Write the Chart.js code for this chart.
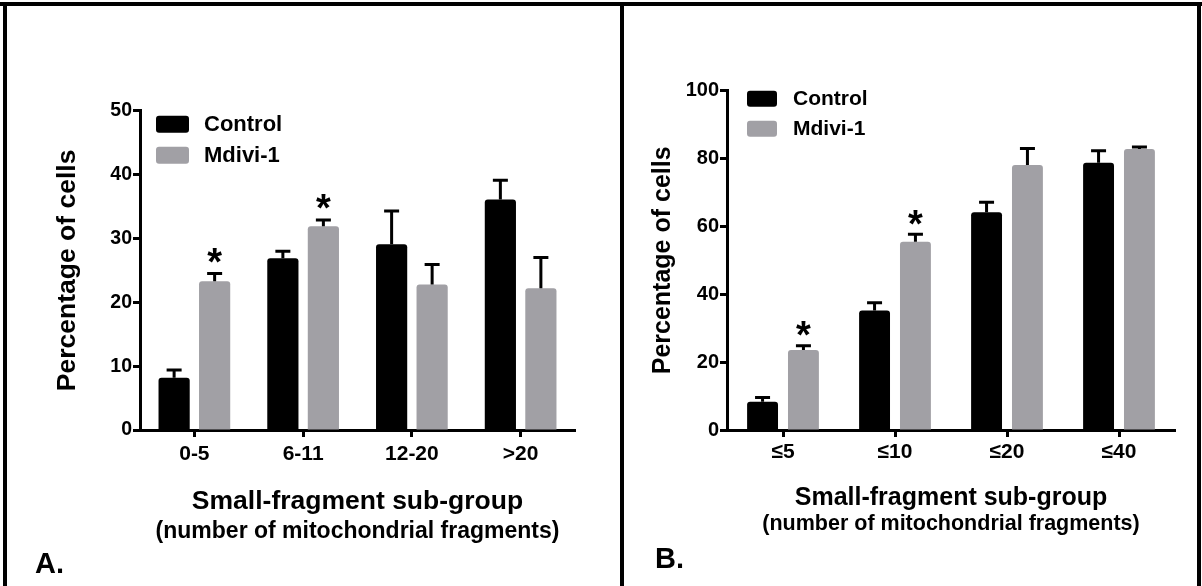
<!DOCTYPE html>
<html>
<head>
<meta charset="utf-8">
<title>Small-fragment sub-group</title>
<script src="https://cdn.jsdelivr.net/npm/chart.js@4.4.1/dist/chart.umd.min.js"></script>
<style>
  body { margin: 0; background: #fff; width: 1202px; height: 586px; position: relative; overflow: hidden; }
  .panel { position: absolute; top: 0; }
  #panelA { left: 0; width: 620px; height: 586px; }
  #panelB { left: 620px; width: 582px; height: 586px; }
  .frame { position: absolute; background: #000; z-index: 2; }
</style>
</head>
<body>
<div class="panel" id="panelA"><canvas id="chartA" width="620" height="586"></canvas></div>
<div class="panel" id="panelB"><canvas id="chartB" width="582" height="586"></canvas></div>
<!-- panel frames -->
<div class="frame" style="left:0;top:2px;width:1202px;height:4px"></div>
<div class="frame" style="left:3px;top:2px;width:4px;height:584px"></div>
<div class="frame" style="left:620px;top:2px;width:4px;height:584px"></div>
<div class="frame" style="left:1197px;top:2px;width:4px;height:584px"></div>

<script>
// panel A: sub-groups by fragment count
var categoriesA = ["0-5", "6-11", "12-20", ">20"];
var controlA = [8.2, 26.9, 29.1, 36.1];
var controlErrA = [1.2, 1.1, 5.2, 3.0];
var mdiviA = [23.3, 31.9, 22.8, 22.2];
var mdiviErrA = [1.2, 1.0, 3.1, 4.8];
var starsA = ["*", "*", "", ""];
var yMaxA = 50;
var yStepA = 10;

// panel B: cumulative sub-groups
var categoriesB = ["\u22645", "\u226410", "\u226420", "\u226440"];
var controlB = [8.3, 35.2, 64.2, 78.8];
var controlErrB = [1.3, 2.3, 2.9, 3.5];
var mdiviB = [23.6, 55.5, 78.1, 82.8];
var mdiviErrB = [1.2, 2.2, 4.9, 0.6];
var starsB = ["*", "*", "", ""];
var yMaxB = 100;
var yStepB = 20;

var seriesNames = ["Control", "Mdivi-1"];
var seriesColors = ["#000000", "#a1a0a5"];
var axisTitleY = "Percentage of cells";
var axisTitleX = "Small-fragment sub-group";
var axisSubtitleX = "(number of mitochondrial fragments)";

var FONT = "'Liberation Sans', Arial, Helvetica, sans-serif";

// error bars (upper half only) + significance stars
var errorBarsPlugin = {
  id: "errorBars",
  afterDatasetsDraw: function (chart, args, opts) {
    var ctx = chart.ctx;
    var yScale = chart.scales.y;
    ctx.save();
    chart.data.datasets.forEach(function (ds, i) {
      var meta = chart.getDatasetMeta(i);
      meta.data.forEach(function (bar, j) {
        var top = yScale.getPixelForValue(ds.data[j] + ds.errors[j]);
        ctx.strokeStyle = "#000";
        ctx.lineWidth = opts.lineWidth;
        ctx.beginPath();
        ctx.moveTo(bar.x, bar.y);
        ctx.lineTo(bar.x, top);
        ctx.moveTo(bar.x - opts.capWidth / 2, top);
        ctx.lineTo(bar.x + opts.capWidth / 2, top);
        ctx.stroke();
        if (ds.stars && ds.stars[j]) {
          ctx.font = "bold " + opts.starSize + "px " + FONT;
          ctx.fillStyle = "#000";
          ctx.textAlign = "center";
          ctx.textBaseline = "alphabetic";
          var m = ctx.measureText(ds.stars[j]);
          var cy = top - opts.starGap;
          ctx.fillText(ds.stars[j], bar.x, cy + (m.actualBoundingBoxAscent - m.actualBoundingBoxDescent) / 2);
        }
      });
    });
    ctx.restore();
  }
};

// legend boxes inside the plot, subtitle under the x title, panel letter
var panelTextPlugin = {
  id: "panelText",
  afterDraw: function (chart, args, opts) {
    var ctx = chart.ctx;
    var area = chart.chartArea;
    ctx.save();
    chart.data.datasets.forEach(function (ds, i) {
      var bx = area.left + opts.legendX;
      var by = area.top + opts.legendY + i * opts.legendGap;
      ctx.fillStyle = ds.backgroundColor;
      ctx.beginPath();
      ctx.roundRect(bx, by, opts.boxW, opts.boxH, 3);
      ctx.fill();
      ctx.fillStyle = "#000";
      ctx.font = "bold " + opts.legendFont + "px " + FONT;
      ctx.textAlign = "left";
      ctx.textBaseline = "middle";
      ctx.fillText(ds.label, bx + opts.boxW + opts.textGap, by + opts.boxH / 2 + 1);
    });

    ctx.font = "bold " + opts.subFont + "px " + FONT;
    ctx.textAlign = "center";
    ctx.textBaseline = "middle";
    ctx.fillText(axisSubtitleX, (area.left + area.right) / 2, opts.subY);

    ctx.font = "bold " + opts.letterFont + "px " + FONT;
    ctx.textAlign = "left";
    ctx.fillText(opts.letter, opts.letterX, opts.letterY);
    ctx.restore();
  }
};

function makeChart(canvasId, cats, ctl, ctlErr, mdv, mdvErr, stars, yMax, yStep, look) {
  var ctx = document.getElementById(canvasId).getContext("2d");
  return new Chart(ctx, {
    type: "bar",
    data: {
      labels: cats,
      datasets: [
        {
          label: seriesNames[0],
          data: ctl,
          errors: ctlErr,
          backgroundColor: seriesColors[0],
          borderRadius: { topLeft: 3, topRight: 3 },
          borderSkipped: "bottom",
          categoryPercentage: look.catPct,
          barPercentage: look.barPct,
        },
        {
          label: seriesNames[1],
          data: mdv,
          errors: mdvErr,
          stars: stars,
          backgroundColor: seriesColors[1],
          borderRadius: { topLeft: 3, topRight: 3 },
          borderSkipped: "bottom",
          categoryPercentage: look.catPct,
          barPercentage: look.barPct,
        },
      ],
    },
    options: {
      responsive: false,
      animation: false,
      devicePixelRatio: 1,
      layout: { padding: look.padding },
      plugins: {
        legend: { display: false },
        tooltip: { enabled: false },
        errorBars: { lineWidth: 3, capWidth: 15, starSize: look.starSize, starGap: look.starGap },
        panelText: look.text,
      },
      scales: {
        x: {
          afterFit: function (s) { s.height = look.xHeight; },
          grid: { display: true, drawOnChartArea: false, offset: false, tickLength: 7, tickWidth: 3, tickColor: "#000" },
          border: { display: true, color: "#000", width: 3 },
          ticks: { color: "#000", padding: look.xTickPad, font: { family: FONT, size: look.xTickFont, weight: "bold" } },
          title: {
            display: true,
            text: axisTitleX,
            color: "#000",
            font: { family: FONT, size: look.titleFont, weight: "bold" },
            padding: { top: 0, bottom: look.xTitlePad },
          },
        },
        y: {
          min: 0,
          max: yMax,
          afterFit: function (s) { s.width = look.yWidth; },
          grid: { display: true, drawOnChartArea: false, tickLength: 7, tickWidth: 3, tickColor: "#000" },
          border: { display: true, color: "#000", width: 3 },
          ticks: { stepSize: yStep, color: "#000", padding: 1, font: { family: FONT, size: look.yTickFont, weight: "bold" } },
          title: {
            display: true,
            text: axisTitleY,
            color: "#000",
            font: { family: FONT, size: look.titleFont, weight: "bold" },
            padding: { top: look.yTitlePad, bottom: 0 },
          },
        },
      },
    },
    plugins: [errorBarsPlugin, panelTextPlugin],
  });
}

makeChart("chartA", categoriesA, controlA, controlErrA, mdiviA, mdiviErrA, starsA, yMaxA, yStepA, {
  padding: { top: 110.7, right: 45, bottom: 0, left: 0 },
  yWidth: 140,
  xHeight: 156,
  catPct: 0.745,
  barPct: 0.77,
  yTickFont: 19.5,
  xTickFont: 21,
  xTickPad: 5,
  titleFont: 26.5,
  yTitlePad: 52,
  xTitlePad: 68,
  starSize: 38,
  starGap: 18,
  text: {
    legendX: 16, legendY: 5, legendGap: 31, boxW: 33, boxH: 17, textGap: 15, legendFont: 22,
    subFont: 23, subY: 532,
    letter: "A.", letterFont: 29, letterX: 35, letterY: 565,
  },
});

makeChart("chartB", categoriesB, controlB, controlErrB, mdiviB, mdiviErrB, starsB, yMaxB, yStepB, {
  padding: { top: 90.7, right: 27, bottom: 0, left: 0 },
  yWidth: 107,
  xHeight: 156,
  catPct: 0.73,
  barPct: 0.756,
  yTickFont: 20,
  xTickFont: 21,
  xTickPad: 3,
  titleFont: 25,
  yTitlePad: 28,
  xTitlePad: 73,
  starSize: 38,
  starGap: 17,
  text: {
    legendX: 20, legendY: 0, legendGap: 30, boxW: 30, boxH: 16, textGap: 16, legendFont: 21,
    subFont: 21.5, subY: 524,
    letter: "B.", letterFont: 29, letterX: 35, letterY: 560,
  },
});
</script>
</body>
</html>
